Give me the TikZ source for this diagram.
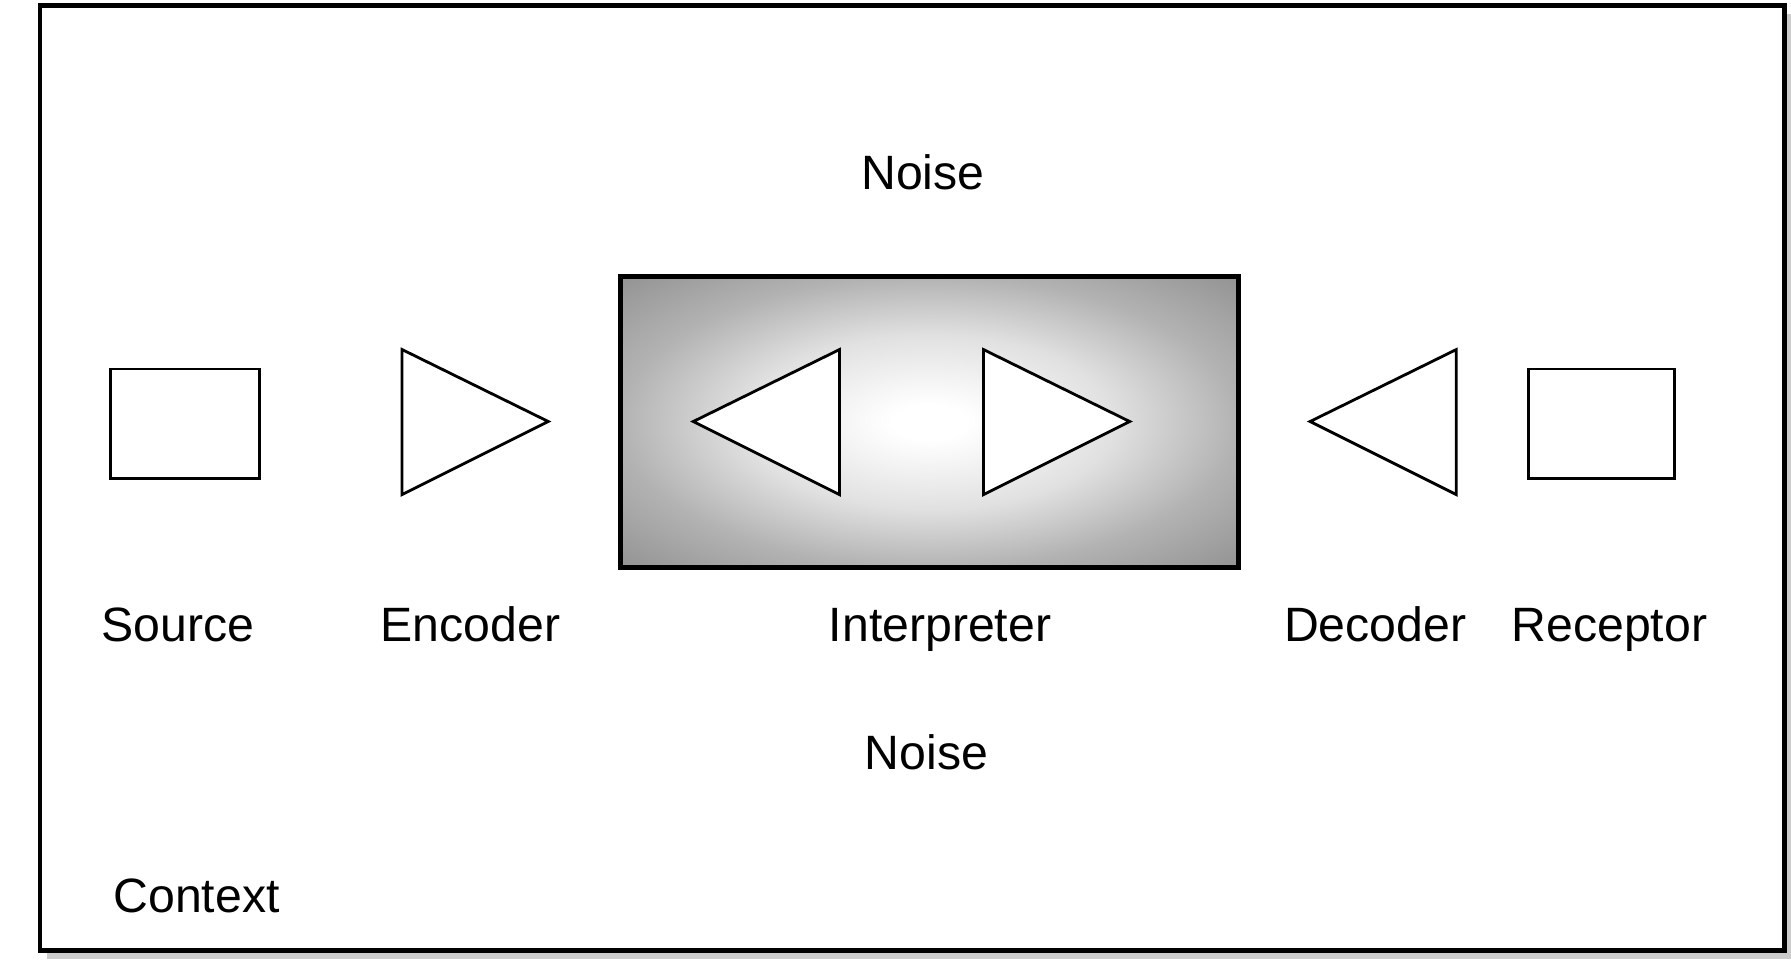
\documentclass[tikz,border=0pt]{standalone}
\usepackage{fontspec}
\setmainfont{Liberation Sans}
\pgfdeclareradialshading{interp}{\pgfpoint{0bp}{0bp}}{color(0bp)=(white); color(3bp)=(white); color(15bp)=(black!12); color(25bp)=(black!30); color(35bp)=(black!42); color(50bp)=(black!50)}
\begin{document}
\begin{tikzpicture}[x=0.01cm,y=-0.01cm,
  lbl/.style={font=\fontsize{12}{14}\selectfont,inner sep=0pt,anchor=base},
  shp/.style={draw=black,line width=0.7pt,fill=white}]
\useasboundingbox (0,0) rectangle (1568,850);
% shadow and frame
\fill[gray!40] (41,12) rectangle (1568,840);
\draw[line width=1.2pt,fill=white] (35,5) rectangle (1562,832);
% interpreter box
\shade[shading=interp] (543,242) rectangle (1084,497);
\draw[line width=1.2pt] (543,242) rectangle (1084,497);
% shapes
\draw[shp] (97,323) rectangle (227,419);
\draw[shp] (1338,323) rectangle (1466,419);
\draw[shp] (352,306) -- (352,433) -- (480,369) -- cycle;
\draw[shp] (735,306) -- (735,433) -- (607,369) -- cycle;
\draw[shp] (861,306) -- (861,433) -- (989,369) -- cycle;
\draw[shp] (1275,306) -- (1275,433) -- (1147,369) -- cycle;
% labels
\node[lbl] (n1) at (808,166) {Noise};
\node[lbl] (n2) at (811,674) {Noise};
\node[lbl] (src) at (156,562) {Source};
\node[lbl] (enc) at (412,562) {Encoder};
\node[lbl] (int) at (823,562) {Interpreter};
\node[lbl] (dec) at (1204,562) {Decoder};
\node[lbl] (rec) at (1409,562) {Receptor};
\node[lbl] (ctx) at (172,799) {Context};
\end{tikzpicture}
\end{document}
